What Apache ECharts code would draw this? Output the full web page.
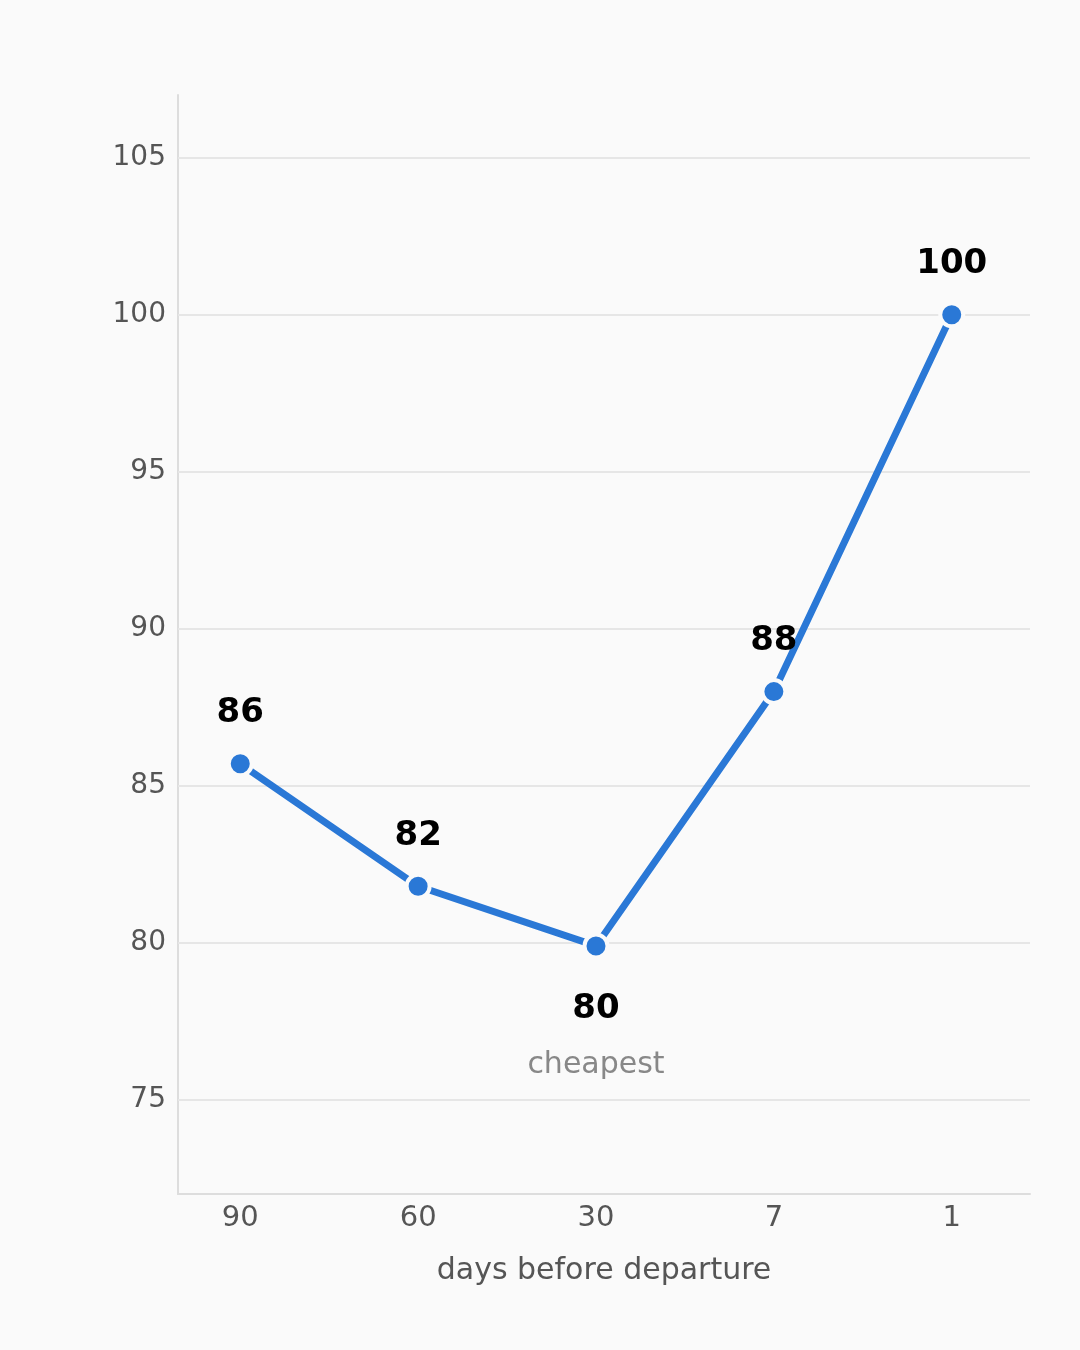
<!DOCTYPE html>
<html>
<head>
<meta charset="utf-8">
<script src="https://cdn.jsdelivr.net/npm/echarts@6/dist/echarts.min.js"></script>
<style>
  html, body { margin: 0; padding: 0; background: #fafafa; }
  #chart { width: 1080px; height: 1350px; }
</style>
</head>
<body>
<div id="chart"></div>
<script>
// categories and values
const days = ['90', '60', '30', '7', '1'];
const prices = [85.7, 81.8, 79.9, 88, 100];
const yTicks = [75, 80, 85, 90, 95, 100, 105];
const cheapestIndex = 2;

const chart = echarts.init(document.getElementById('chart'));

// data points: [index, price], the cheapest one gets a label below
const points = prices.map((p, i) => {
    const item = { value: [i, p] };
    if (i === cheapestIndex) {
        item.label = {
            position: 'bottom',
            distance: 30,
            formatter: (d) => '{v|' + Math.round(d.value[1]) + '}\n{c|cheapest}',
            rich: {
                v: { fontSize: 34, fontWeight: 'bold', color: '#000', lineHeight: 40, fontFamily: 'DejaVu Sans' },
                c: { fontSize: 30, fontWeight: 'normal', color: '#888', lineHeight: 72, fontFamily: 'DejaVu Sans' }
            }
        };
    }
    return item;
});

const option = {
    backgroundColor: '#fafafa',
    animation: false,
    grid: { left: 178, right: 50, top: 95, bottom: 156 },
    xAxis: {
        type: 'value',
        min: -0.35,
        max: 4.44,
        name: 'days before departure',
        nameLocation: 'middle',
        nameGap: 62,
        nameTextStyle: { fontSize: 30, color: '#555', fontFamily: 'DejaVu Sans' },
        axisLine: { show: true, onZero: false, lineStyle: { color: '#dddddd', width: 2 } },
        axisTick: { show: false },
        splitLine: { show: false },
        axisLabel: {
            customValues: [0, 1, 2, 3, 4],
            margin: 10,
            fontSize: 29,
            color: '#555',
            fontFamily: 'DejaVu Sans',
            formatter: (v) => Number.isInteger(v) ? days[v] : ''
        }
    },
    yAxis: {
        type: 'value',
        min: 72,
        max: 107,
        axisLine: { show: true, onZero: false, lineStyle: { color: '#dddddd', width: 2 } },
        axisTick: { show: false },
        splitLine: { show: false },
        axisLabel: {
            customValues: yTicks,
            margin: 12,
            fontSize: 28,
            color: '#555',
            fontFamily: 'DejaVu Sans',
            padding: [4, 0, 0, 0],
            formatter: (v) => (v % 5 === 0 ? String(v) : '')
        }
    },
    series: [{
        type: 'line',
        data: points,
        symbol: 'circle',
        symbolSize: 23,
        z: 3,
        lineStyle: { color: '#2a78d6', width: 7 },
        itemStyle: { color: '#2a78d6', borderColor: '#fafafa', borderWidth: 4 },
        label: {
            show: true,
            position: 'top',
            distance: 20,
            fontSize: 34,
            fontWeight: 'bold',
            color: '#000',
            fontFamily: 'DejaVu Sans',
            formatter: (d) => String(Math.round(d.value[1]))
        },
        // horizontal gridlines at the tick values
        markLine: {
            silent: true,
            symbol: 'none',
            z: 1,
            label: { show: false },
            lineStyle: { color: '#e6e6e6', width: 2, type: 'solid' },
            data: yTicks.map(v => ({ yAxis: v }))
        }
    }]
};

chart.setOption(option);
</script>
</body>
</html>
